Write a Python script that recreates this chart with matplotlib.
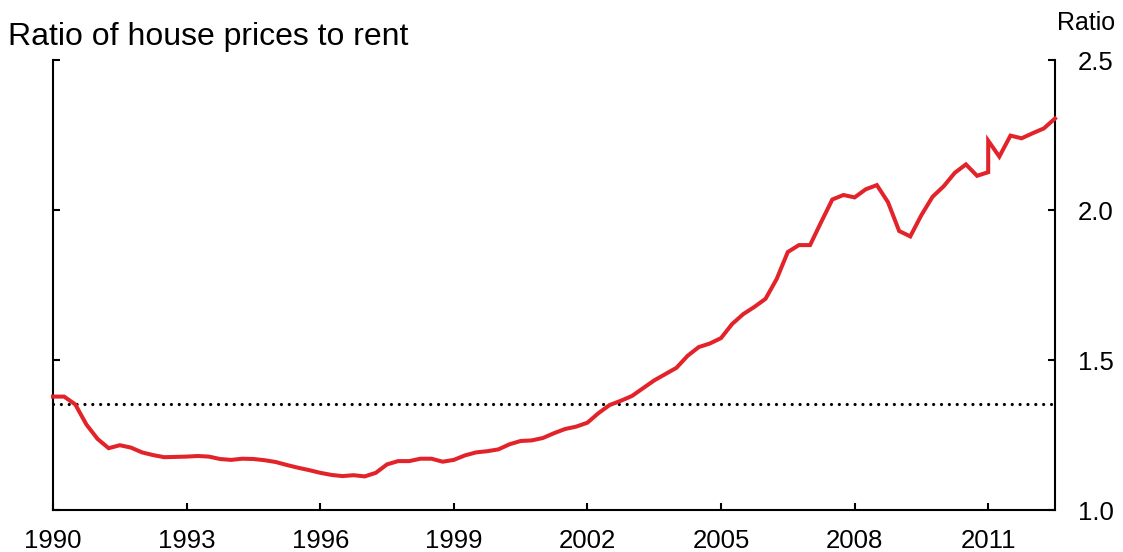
import matplotlib
matplotlib.use("Agg")
import matplotlib.pyplot as plt
import numpy as np

plt.rcParams['font.family'] = ['Liberation Sans', 'DejaVu Sans']

# Quarterly dates (2011 Q1 appears twice: series break)
dates = [1990 + q / 4 for q in range(85)] + [2011.0] + [2011.25, 2011.5, 2011.75, 2012.0, 2012.25, 2012.5]
ratio = [
    1.378, 1.378, 1.352, 1.285, 1.237, 1.206, 1.216, 1.208,
    1.192, 1.183, 1.176, 1.177, 1.178, 1.180, 1.178, 1.170,
    1.167, 1.171, 1.170, 1.166, 1.160, 1.150, 1.141, 1.133,
    1.124, 1.117, 1.113, 1.116, 1.112, 1.124, 1.152, 1.163,
    1.163, 1.171, 1.171, 1.161, 1.167, 1.182, 1.192, 1.196,
    1.202, 1.219, 1.230, 1.232, 1.240, 1.256, 1.270, 1.278,
    1.291, 1.323, 1.350, 1.364, 1.380, 1.406, 1.432, 1.453,
    1.474, 1.514, 1.543, 1.555, 1.573, 1.620, 1.653, 1.677,
    1.704, 1.770, 1.860, 1.883, 1.883, 1.960, 2.035, 2.050,
    2.042, 2.069, 2.083, 2.026, 1.930, 1.912, 1.983, 2.044,
    2.079, 2.124, 2.152, 2.114, 2.126,
    2.231,
    2.178, 2.248, 2.239, 2.256, 2.272, 2.305,
]
average_ratio = 1.352
x_ticks = [1990, 1993, 1996, 1999, 2002, 2005, 2008, 2011]
y_ticks = [1.0, 1.5, 2.0, 2.5]
y_tick_labels = ["1.0", "1.5", "2.0", "2.5"]

fig = plt.figure(figsize=(11.23, 5.52), dpi=100)
ax = fig.add_axes([53 / 1123, 42 / 552, (1055 - 53) / 1123, 450 / 552])

ax.plot(dates, ratio, color='#E3232A', lw=2.9, solid_joinstyle='miter', zorder=3, clip_on=False)
ax.axhline(average_ratio, color='black', lw=2.3, linestyle=(0, (0.01, 2.45)),
           dash_capstyle='round', zorder=2)

ax.set_xlim(1990, 2012.5)
ax.set_ylim(1.0, 2.5)

for s in ['top']:
    ax.spines[s].set_visible(False)
for s in ['left', 'right', 'bottom']:
    ax.spines[s].set_linewidth(1.5)

ax.set_xticks(x_ticks)
ax.set_xticklabels([str(x) for x in x_ticks])
ax.tick_params(axis='x', direction='in', length=5, width=1.5, labelsize=18.5, pad=14)

ax.set_yticks(y_ticks)
ax.set_yticklabels(y_tick_labels)
ax.yaxis.set_ticks_position('both')
ax.tick_params(axis='y', direction='in', length=5, width=1.5, labelsize=18.5,
               left=True, right=True, labelleft=False, labelright=True, pad=16.5)

fig.text(8 / 1123, 1 - 45 / 552, "Ratio of house prices to rent", fontsize=23,
         ha='left', va='baseline')
fig.text(1115 / 1123, 1 - 30 / 552, "Ratio", fontsize=18, ha='right', va='baseline')

fig.savefig("out.png", dpi=100)
